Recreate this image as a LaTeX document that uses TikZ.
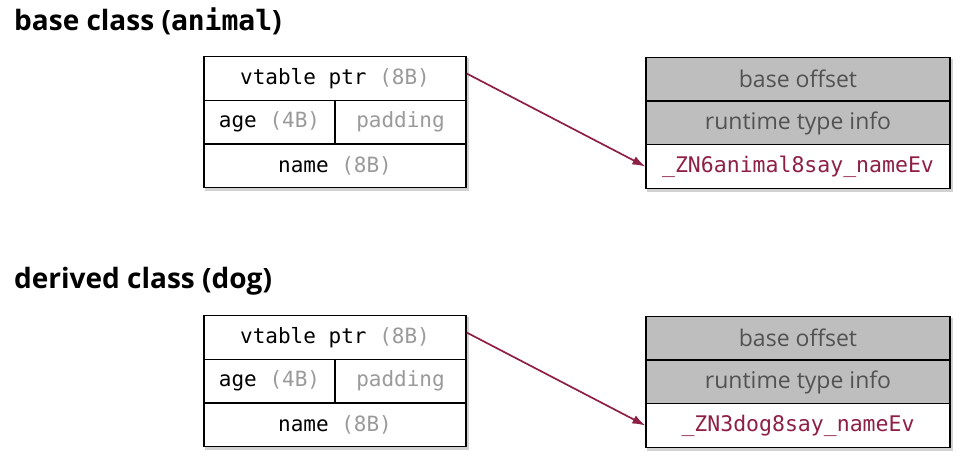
\documentclass[tikz,border=0pt]{standalone}
\usepackage{fontspec}
\setmainfont{Open Sans}
\setmonofont{DejaVu Sans Mono}
\usepackage{xcolor}
\usetikzlibrary{arrows.meta,positioning,backgrounds}
\definecolor{cellgray}{HTML}{BEBEBE}
\definecolor{labgray}{HTML}{9A9A9A}
\definecolor{fnred}{HTML}{8E1F45}
\tikzset{
  field/.style={rectangle,draw=black,line width=1.3pt,fill=white,inner sep=0pt,minimum height=43.5pt,font=\fontsize{21}{25}\selectfont\ttfamily},
  wide/.style={field,minimum width=262pt},
  half/.style={field,minimum width=131pt},
  vrow/.style={field,fill=cellgray,minimum width=304pt,text=black!68,font=\fontsize{23}{27}\selectfont},
  fnrow/.style={field,minimum width=304pt,text=fnred,font=\fontsize{21.5}{25}\selectfont\ttfamily},
  heading/.style={anchor=base west,inner sep=0pt,font=\fontsize{28}{33}\selectfont\bfseries},
  ptrarrow/.style={-{Latex[length=13pt,width=9pt]},line width=1.7pt,draw=fnred},
  boxshadow/.style={fill=black,opacity=0.18}
}
\newcommand{\sz}[1]{\textcolor{labgray}{#1}}
\begin{document}
\begin{tikzpicture}[x=1pt,y=-1pt]
    \useasboundingbox (0,0) rectangle (970,464);

    % base class
    \node[heading] (titleA) at (14,30) {base class (\texttt{animal})};
    \node[wide] (vptrA) at (335,78.5) {vtable ptr \sz{(8B)}};
    \node[half] (ageA) at (269.5,122) {age \sz{(4B)}};
    \node[half] (padA) at (400.5,122) {\sz{padding}};
    \node[wide] (nameA) at (335,166) {name \sz{(8B)}};
    \node[vrow] (offA) at (798,79) {base offset};
    \node[vrow] (rttiA) at (798,123) {runtime type info};
    \node[fnrow] (funA) at (798,166.5) {\_ZN6animal8say\_nameEv};

    % derived class
    \node[heading] (titleB) at (14,288) {derived class (dog)};
    \node[wide] (vptrB) at (335,337.5) {vtable ptr \sz{(8B)}};
    \node[half] (ageB) at (269.5,381) {age \sz{(4B)}};
    \node[half] (padB) at (400.5,381) {\sz{padding}};
    \node[wide] (nameB) at (335,425) {name \sz{(8B)}};
    \node[vrow] (offB) at (798,338) {base offset};
    \node[vrow] (rttiB) at (798,382) {runtime type info};
    \node[fnrow] (funB) at (798,425.5) {\_ZN3dog8say\_nameEv};

    \begin{scope}[on background layer]
      \fill[boxshadow] ([shift={(2,2)}]vptrA.north west) rectangle ([shift={(2.5,3)}]nameA.south east);
      \fill[boxshadow] ([shift={(2,2)}]offA.north west) rectangle ([shift={(2.5,3)}]funA.south east);
      \fill[boxshadow] ([shift={(2,2)}]vptrB.north west) rectangle ([shift={(2.5,3)}]nameB.south east);
      \fill[boxshadow] ([shift={(2,2)}]offB.north west) rectangle ([shift={(2.5,3)}]funB.south east);
    \end{scope}

    \draw[ptrarrow] ([yshift=5pt]vptrA.east) -- (funA.west);
    \draw[ptrarrow] ([yshift=5pt]vptrB.east) -- (funB.west);
\end{tikzpicture}
\end{document}
